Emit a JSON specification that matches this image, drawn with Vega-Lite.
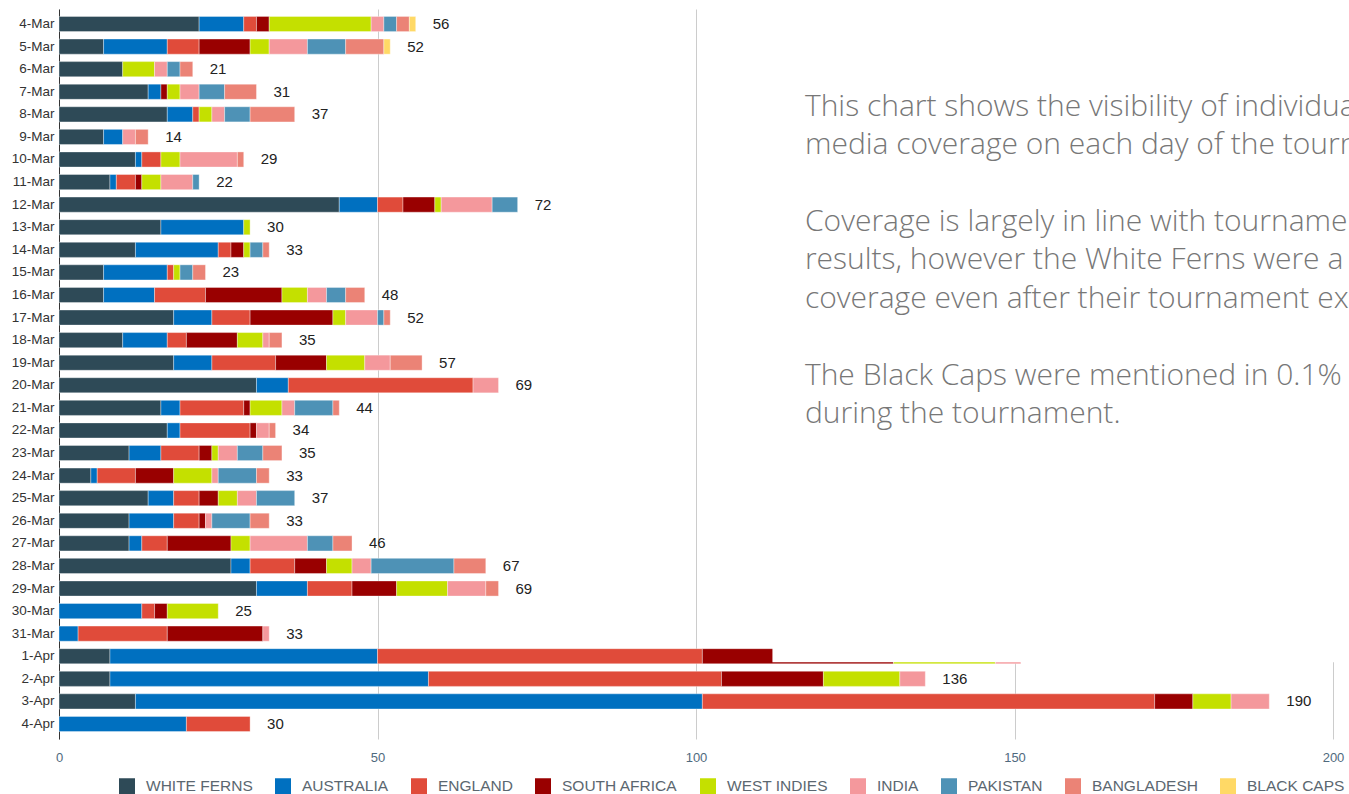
{
  "$schema": "https://vega.github.io/schema/vega-lite/v6.json",
  "autosize": {"type": "none"},
  "padding": {"left": 59, "top": 9, "right": 16, "bottom": 55},
  "width": 1274,
  "height": 730,
  "background": "white",
  "config": {
    "view": {"stroke": null},
    "font": "Liberation Sans"
  },
  "datasets": {
    "teams": [
      {"t":"WHITE FERNS","k":0},{"t":"AUSTRALIA","k":1},{"t":"ENGLAND","k":2},{"t":"SOUTH AFRICA","k":3},{"t":"WEST INDIES","k":4},{"t":"INDIA","k":5},{"t":"PAKISTAN","k":6},{"t":"BANGLADESH","k":7},{"t":"BLACK CAPS","k":8}
    ]
  },
  "data": {"values": [
    {"d":"4-Mar","t":"WHITE FERNS","v":22},{"d":"4-Mar","t":"AUSTRALIA","v":7},{"d":"4-Mar","t":"ENGLAND","v":2},{"d":"4-Mar","t":"SOUTH AFRICA","v":2},{"d":"4-Mar","t":"WEST INDIES","v":16},{"d":"4-Mar","t":"INDIA","v":2},{"d":"4-Mar","t":"PAKISTAN","v":2},{"d":"4-Mar","t":"BANGLADESH","v":2},{"d":"4-Mar","t":"BLACK CAPS","v":1},
    {"d":"5-Mar","t":"WHITE FERNS","v":7},{"d":"5-Mar","t":"AUSTRALIA","v":10},{"d":"5-Mar","t":"ENGLAND","v":5},{"d":"5-Mar","t":"SOUTH AFRICA","v":8},{"d":"5-Mar","t":"WEST INDIES","v":3},{"d":"5-Mar","t":"INDIA","v":6},{"d":"5-Mar","t":"PAKISTAN","v":6},{"d":"5-Mar","t":"BANGLADESH","v":6},{"d":"5-Mar","t":"BLACK CAPS","v":1},
    {"d":"6-Mar","t":"WHITE FERNS","v":10},{"d":"6-Mar","t":"WEST INDIES","v":5},{"d":"6-Mar","t":"INDIA","v":2},{"d":"6-Mar","t":"PAKISTAN","v":2},{"d":"6-Mar","t":"BANGLADESH","v":2},
    {"d":"7-Mar","t":"WHITE FERNS","v":14},{"d":"7-Mar","t":"AUSTRALIA","v":2},{"d":"7-Mar","t":"SOUTH AFRICA","v":1},{"d":"7-Mar","t":"WEST INDIES","v":2},{"d":"7-Mar","t":"INDIA","v":3},{"d":"7-Mar","t":"PAKISTAN","v":4},{"d":"7-Mar","t":"BANGLADESH","v":5},
    {"d":"8-Mar","t":"WHITE FERNS","v":17},{"d":"8-Mar","t":"AUSTRALIA","v":4},{"d":"8-Mar","t":"ENGLAND","v":1},{"d":"8-Mar","t":"WEST INDIES","v":2},{"d":"8-Mar","t":"INDIA","v":2},{"d":"8-Mar","t":"PAKISTAN","v":4},{"d":"8-Mar","t":"BANGLADESH","v":7},
    {"d":"9-Mar","t":"WHITE FERNS","v":7},{"d":"9-Mar","t":"AUSTRALIA","v":3},{"d":"9-Mar","t":"INDIA","v":2},{"d":"9-Mar","t":"BANGLADESH","v":2},
    {"d":"10-Mar","t":"WHITE FERNS","v":12},{"d":"10-Mar","t":"AUSTRALIA","v":1},{"d":"10-Mar","t":"ENGLAND","v":3},{"d":"10-Mar","t":"WEST INDIES","v":3},{"d":"10-Mar","t":"INDIA","v":9},{"d":"10-Mar","t":"BANGLADESH","v":1},
    {"d":"11-Mar","t":"WHITE FERNS","v":8},{"d":"11-Mar","t":"AUSTRALIA","v":1},{"d":"11-Mar","t":"ENGLAND","v":3},{"d":"11-Mar","t":"SOUTH AFRICA","v":1},{"d":"11-Mar","t":"WEST INDIES","v":3},{"d":"11-Mar","t":"INDIA","v":5},{"d":"11-Mar","t":"PAKISTAN","v":1},
    {"d":"12-Mar","t":"WHITE FERNS","v":44},{"d":"12-Mar","t":"AUSTRALIA","v":6},{"d":"12-Mar","t":"ENGLAND","v":4},{"d":"12-Mar","t":"SOUTH AFRICA","v":5},{"d":"12-Mar","t":"WEST INDIES","v":1},{"d":"12-Mar","t":"INDIA","v":8},{"d":"12-Mar","t":"PAKISTAN","v":4},
    {"d":"13-Mar","t":"WHITE FERNS","v":16},{"d":"13-Mar","t":"AUSTRALIA","v":13},{"d":"13-Mar","t":"WEST INDIES","v":1},
    {"d":"14-Mar","t":"WHITE FERNS","v":12},{"d":"14-Mar","t":"AUSTRALIA","v":13},{"d":"14-Mar","t":"ENGLAND","v":2},{"d":"14-Mar","t":"SOUTH AFRICA","v":2},{"d":"14-Mar","t":"WEST INDIES","v":1},{"d":"14-Mar","t":"PAKISTAN","v":2},{"d":"14-Mar","t":"BANGLADESH","v":1},
    {"d":"15-Mar","t":"WHITE FERNS","v":7},{"d":"15-Mar","t":"AUSTRALIA","v":10},{"d":"15-Mar","t":"ENGLAND","v":1},{"d":"15-Mar","t":"WEST INDIES","v":1},{"d":"15-Mar","t":"PAKISTAN","v":2},{"d":"15-Mar","t":"BANGLADESH","v":2},
    {"d":"16-Mar","t":"WHITE FERNS","v":7},{"d":"16-Mar","t":"AUSTRALIA","v":8},{"d":"16-Mar","t":"ENGLAND","v":8},{"d":"16-Mar","t":"SOUTH AFRICA","v":12},{"d":"16-Mar","t":"WEST INDIES","v":4},{"d":"16-Mar","t":"INDIA","v":3},{"d":"16-Mar","t":"PAKISTAN","v":3},{"d":"16-Mar","t":"BANGLADESH","v":3},
    {"d":"17-Mar","t":"WHITE FERNS","v":18},{"d":"17-Mar","t":"AUSTRALIA","v":6},{"d":"17-Mar","t":"ENGLAND","v":6},{"d":"17-Mar","t":"SOUTH AFRICA","v":13},{"d":"17-Mar","t":"WEST INDIES","v":2},{"d":"17-Mar","t":"INDIA","v":5},{"d":"17-Mar","t":"PAKISTAN","v":1},{"d":"17-Mar","t":"BANGLADESH","v":1},
    {"d":"18-Mar","t":"WHITE FERNS","v":10},{"d":"18-Mar","t":"AUSTRALIA","v":7},{"d":"18-Mar","t":"ENGLAND","v":3},{"d":"18-Mar","t":"SOUTH AFRICA","v":8},{"d":"18-Mar","t":"WEST INDIES","v":4},{"d":"18-Mar","t":"INDIA","v":1},{"d":"18-Mar","t":"BANGLADESH","v":2},
    {"d":"19-Mar","t":"WHITE FERNS","v":18},{"d":"19-Mar","t":"AUSTRALIA","v":6},{"d":"19-Mar","t":"ENGLAND","v":10},{"d":"19-Mar","t":"SOUTH AFRICA","v":8},{"d":"19-Mar","t":"WEST INDIES","v":6},{"d":"19-Mar","t":"INDIA","v":4},{"d":"19-Mar","t":"BANGLADESH","v":5},
    {"d":"20-Mar","t":"WHITE FERNS","v":31},{"d":"20-Mar","t":"AUSTRALIA","v":5},{"d":"20-Mar","t":"ENGLAND","v":29},{"d":"20-Mar","t":"INDIA","v":4},
    {"d":"21-Mar","t":"WHITE FERNS","v":16},{"d":"21-Mar","t":"AUSTRALIA","v":3},{"d":"21-Mar","t":"ENGLAND","v":10},{"d":"21-Mar","t":"SOUTH AFRICA","v":1},{"d":"21-Mar","t":"WEST INDIES","v":5},{"d":"21-Mar","t":"INDIA","v":2},{"d":"21-Mar","t":"PAKISTAN","v":6},{"d":"21-Mar","t":"BANGLADESH","v":1},
    {"d":"22-Mar","t":"WHITE FERNS","v":17},{"d":"22-Mar","t":"AUSTRALIA","v":2},{"d":"22-Mar","t":"ENGLAND","v":11},{"d":"22-Mar","t":"SOUTH AFRICA","v":1},{"d":"22-Mar","t":"INDIA","v":2},{"d":"22-Mar","t":"BANGLADESH","v":1},
    {"d":"23-Mar","t":"WHITE FERNS","v":11},{"d":"23-Mar","t":"AUSTRALIA","v":5},{"d":"23-Mar","t":"ENGLAND","v":6},{"d":"23-Mar","t":"SOUTH AFRICA","v":2},{"d":"23-Mar","t":"WEST INDIES","v":1},{"d":"23-Mar","t":"INDIA","v":3},{"d":"23-Mar","t":"PAKISTAN","v":4},{"d":"23-Mar","t":"BANGLADESH","v":3},
    {"d":"24-Mar","t":"WHITE FERNS","v":5},{"d":"24-Mar","t":"AUSTRALIA","v":1},{"d":"24-Mar","t":"ENGLAND","v":6},{"d":"24-Mar","t":"SOUTH AFRICA","v":6},{"d":"24-Mar","t":"WEST INDIES","v":6},{"d":"24-Mar","t":"INDIA","v":1},{"d":"24-Mar","t":"PAKISTAN","v":6},{"d":"24-Mar","t":"BANGLADESH","v":2},
    {"d":"25-Mar","t":"WHITE FERNS","v":14},{"d":"25-Mar","t":"AUSTRALIA","v":4},{"d":"25-Mar","t":"ENGLAND","v":4},{"d":"25-Mar","t":"SOUTH AFRICA","v":3},{"d":"25-Mar","t":"WEST INDIES","v":3},{"d":"25-Mar","t":"INDIA","v":3},{"d":"25-Mar","t":"PAKISTAN","v":6},
    {"d":"26-Mar","t":"WHITE FERNS","v":11},{"d":"26-Mar","t":"AUSTRALIA","v":7},{"d":"26-Mar","t":"ENGLAND","v":4},{"d":"26-Mar","t":"SOUTH AFRICA","v":1},{"d":"26-Mar","t":"INDIA","v":1},{"d":"26-Mar","t":"PAKISTAN","v":6},{"d":"26-Mar","t":"BANGLADESH","v":3},
    {"d":"27-Mar","t":"WHITE FERNS","v":11},{"d":"27-Mar","t":"AUSTRALIA","v":2},{"d":"27-Mar","t":"ENGLAND","v":4},{"d":"27-Mar","t":"SOUTH AFRICA","v":10},{"d":"27-Mar","t":"WEST INDIES","v":3},{"d":"27-Mar","t":"INDIA","v":9},{"d":"27-Mar","t":"PAKISTAN","v":4},{"d":"27-Mar","t":"BANGLADESH","v":3},
    {"d":"28-Mar","t":"WHITE FERNS","v":27},{"d":"28-Mar","t":"AUSTRALIA","v":3},{"d":"28-Mar","t":"ENGLAND","v":7},{"d":"28-Mar","t":"SOUTH AFRICA","v":5},{"d":"28-Mar","t":"WEST INDIES","v":4},{"d":"28-Mar","t":"INDIA","v":3},{"d":"28-Mar","t":"PAKISTAN","v":13},{"d":"28-Mar","t":"BANGLADESH","v":5},
    {"d":"29-Mar","t":"WHITE FERNS","v":31},{"d":"29-Mar","t":"AUSTRALIA","v":8},{"d":"29-Mar","t":"ENGLAND","v":7},{"d":"29-Mar","t":"SOUTH AFRICA","v":7},{"d":"29-Mar","t":"WEST INDIES","v":8},{"d":"29-Mar","t":"INDIA","v":6},{"d":"29-Mar","t":"BANGLADESH","v":2},
    {"d":"30-Mar","t":"AUSTRALIA","v":13},{"d":"30-Mar","t":"ENGLAND","v":2},{"d":"30-Mar","t":"SOUTH AFRICA","v":2},{"d":"30-Mar","t":"WEST INDIES","v":8},
    {"d":"31-Mar","t":"AUSTRALIA","v":3},{"d":"31-Mar","t":"ENGLAND","v":14},{"d":"31-Mar","t":"SOUTH AFRICA","v":15},{"d":"31-Mar","t":"INDIA","v":1},
    {"d":"1-Apr","t":"WHITE FERNS","v":8},{"d":"1-Apr","t":"AUSTRALIA","v":42},{"d":"1-Apr","t":"ENGLAND","v":51},{"d":"1-Apr","t":"SOUTH AFRICA","v":30},{"d":"1-Apr","t":"WEST INDIES","v":16},{"d":"1-Apr","t":"INDIA","v":4},
    {"d":"2-Apr","t":"WHITE FERNS","v":8},{"d":"2-Apr","t":"AUSTRALIA","v":50},{"d":"2-Apr","t":"ENGLAND","v":46},{"d":"2-Apr","t":"SOUTH AFRICA","v":16},{"d":"2-Apr","t":"WEST INDIES","v":12},{"d":"2-Apr","t":"INDIA","v":4},
    {"d":"3-Apr","t":"WHITE FERNS","v":12},{"d":"3-Apr","t":"AUSTRALIA","v":89},{"d":"3-Apr","t":"ENGLAND","v":71},{"d":"3-Apr","t":"SOUTH AFRICA","v":6},{"d":"3-Apr","t":"WEST INDIES","v":6},{"d":"3-Apr","t":"INDIA","v":6},
    {"d":"4-Apr","t":"AUSTRALIA","v":20},{"d":"4-Apr","t":"ENGLAND","v":10}
  ]},
  "layer": [
    {
      "transform": [{"lookup": "t", "from": {"data": {"name": "teams"}, "key": "t", "fields": ["k"]}}],
      "mark": {"type": "bar", "stroke": "white", "strokeWidth": 0.6, "strokeOpacity": 0.6},
      "encoding": {
        "y": {
          "field": "d", "type": "nominal",
          "scale": {
            "domain": ["4-Mar","5-Mar","6-Mar","7-Mar","8-Mar","9-Mar","10-Mar","11-Mar","12-Mar","13-Mar","14-Mar","15-Mar","16-Mar","17-Mar","18-Mar","19-Mar","20-Mar","21-Mar","22-Mar","23-Mar","24-Mar","25-Mar","26-Mar","27-Mar","28-Mar","29-Mar","30-Mar","31-Mar","1-Apr","2-Apr","3-Apr","4-Apr"],
            "paddingInner": 0.33, "paddingOuter": 0.33
          },
          "axis": {
            "title": null, "ticks": false, "domainColor": "#333333", "domainWidth": 1,
            "labelFontSize": 13.5, "labelColor": "#333333", "labelPadding": 5, "labelFont": "Liberation Sans"
          }
        },
        "x": {
          "field": "v", "type": "quantitative", "stack": "zero",
          "scale": {"domain": [0, 200], "nice": false},
          "axis": {
            "title": null, "values": [0, 50, 100, 150, 200], "domain": false, "ticks": false,
            "grid": true, "gridColor": "#cccccc", "gridWidth": 1, "labelFlush": false,
            "labelFontSize": 13, "labelColor": "#4f6a7e", "labelPadding": 12, "labelFont": "Liberation Sans"
          }
        },
        "order": {"field": "k", "type": "quantitative", "sort": "ascending"},
        "color": {
          "field": "t", "type": "nominal",
          "scale": {
            "domain": ["WHITE FERNS","AUSTRALIA","ENGLAND","SOUTH AFRICA","WEST INDIES","INDIA","PAKISTAN","BANGLADESH","BLACK CAPS"],
            "range": ["#2e4a57","#0070c0","#e04b3a","#990000","#c4e000","#f4989c","#4e92b6","#eb8376","#ffd966"]
          },
          "legend": {
            "title": null, "orient": "none", "legendX": 60, "legendY": 769, "direction": "horizontal", "columns": 9,
            "symbolType": "square", "symbolSize": 256, "symbolStrokeWidth": 0,
            "labelFontSize": 15.5, "labelFont": "Liberation Sans", "labelColor": "#5b6770",
            "columnPadding": 22, "labelOffset": 11, "labelLimit": 300
          }
        }
      }
    },
    {
      "transform": [{"aggregate": [{"op": "sum", "field": "v", "as": "total"}], "groupby": ["d"]}],
      "mark": {"type": "text", "align": "left", "baseline": "middle", "dx": 17, "fontSize": 15, "font": "Liberation Sans", "color": "#222222"},
      "encoding": {
        "y": {"field": "d", "type": "nominal"},
        "x": {"field": "total", "type": "quantitative"},
        "text": {"field": "total", "type": "quantitative"}
      }
    },
    {
      "data": {"values": [{}]},
      "mark": {"type": "rect", "color": "white"},
      "encoding": {
        "x": {"datum": 112, "type": "quantitative"},
        "x2": {"datum": 260},
        "y": {"datum": "4-Mar", "type": "nominal", "bandPosition": -1},
        "y2": {"datum": "1-Apr", "bandPosition": 0.9}
      }
    },
    {
      "data": {"values": [{}]},
      "mark": {
        "type": "text", "align": "left", "baseline": "top", "font": "Open Sans", "fontWeight": 300,
        "fontSize": 30, "lineHeight": 38.5, "color": "#777777",
        "text": ["This chart shows the visibility of individual", "media coverage on each day of the tournament."]
      },
      "encoding": {
        "x": {"datum": 117.1, "type": "quantitative"},
        "y": {"datum": "7-Mar", "type": "nominal"}
      }
    },
    {
      "data": {"values": [{}]},
      "mark": {
        "type": "text", "align": "left", "baseline": "top", "font": "Open Sans", "fontWeight": 300,
        "fontSize": 30, "lineHeight": 38.5, "color": "#777777", "dy": 2,
        "text": ["Coverage is largely in line with tournament", "results, however the White Ferns were a", "coverage even after their tournament exit."]
      },
      "encoding": {
        "x": {"datum": 117.1, "type": "quantitative"},
        "y": {"datum": "12-Mar", "type": "nominal"}
      }
    },
    {
      "data": {"values": [{}]},
      "mark": {
        "type": "text", "align": "left", "baseline": "top", "font": "Open Sans", "fontWeight": 300,
        "fontSize": 30, "lineHeight": 38.5, "color": "#777777", "dy": -2,
        "text": ["The Black Caps were mentioned in 0.1%", "during the tournament."]
      },
      "encoding": {
        "x": {"datum": 117.1, "type": "quantitative"},
        "y": {"datum": "19-Mar", "type": "nominal"}
      }
    }
  ]
}
